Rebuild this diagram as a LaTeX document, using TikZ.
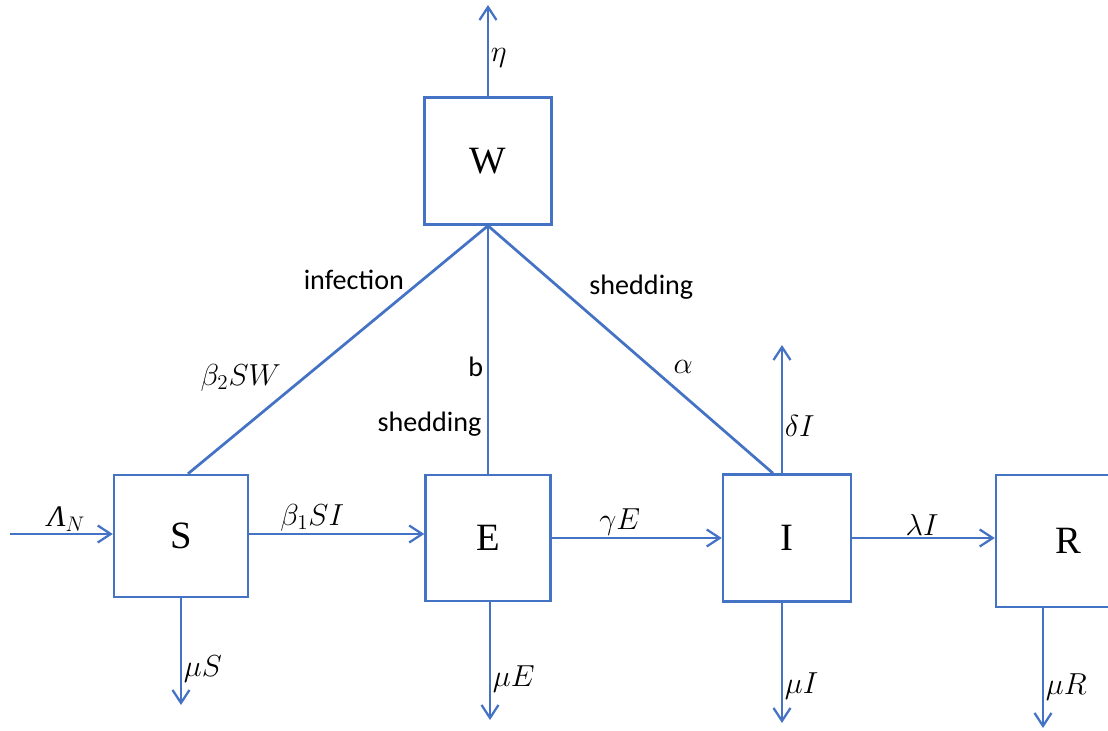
\documentclass[tikz,border=0pt]{standalone}
\usepackage{fontspec}
\setmainfont{Liberation Serif}
\newfontfamily\labfont{Carlito}
\usetikzlibrary{positioning,arrows.meta,calc}
\definecolor{flowblue}{HTML}{4472C4}

\begin{document}
\begin{tikzpicture}[x=0.02cm, y=-0.02cm,
    comp/.style={draw=flowblue, line width=0.5mm, minimum width=2.54cm,
                 minimum height=2.54cm, inner sep=0pt,
                 font=\fontsize{22}{24}\selectfont},
    arr/.style={-{Straight Barb[length=2.6mm,width=3.4mm]}, draw=flowblue,
                line width=0.45mm},
    link/.style={draw=flowblue, line width=0.55mm},
    lab/.style={font={\labfont\fontsize{16}{18}\selectfont}, inner sep=1pt},
    rate/.style={font=\fontsize{17}{19}\selectfont, inner sep=1pt},
  ]
  \useasboundingbox (0,0) rectangle (1108,730);
  \clip (0,0) rectangle (1108,730);

  % compartments
  \node[comp, minimum width=2.68cm, minimum height=2.44cm] (S) at (181,536) {S};
  \node[comp, minimum width=2.5cm, minimum height=2.52cm] (E) at (488,538) {E};
  \node[comp, minimum width=2.56cm] (I) at (787,538) {I};
  \node[comp, minimum width=2.88cm, minimum height=2.64cm] (R) at (1068,541) {R};
  \node[comp] (W) at (488,161) {W};

  % free ends of the flows
  \coordinate (inflow) at (10,534);
  \coordinate (muSend) at (181,705);
  \coordinate (muEend) at (490,720);
  \coordinate (dIend) at (782,345);
  \coordinate (muIend) at (782,723);
  \coordinate (muRend) at (1043,728);
  \coordinate (etaend) at (488,5);

  % flows between compartments
  \draw[arr] (inflow) -- node[rate, above, pos=0.55] {\textit{Λ}$_N$} (inflow -| S.west);
  \draw[arr] ([yshift=0.04cm]S.east) -- node[rate, above, pos=0.36] {$\beta_1 SI$}
    ([yshift=0.04cm]S.east -| E.west);
  \draw[arr] (E.east) -- node[rate, above, pos=0.4] {$\gamma E$} (I.west);
  \draw[arr] (I.east) -- node[rate, above, pos=0.49] {$\lambda I$} (I.east -| R.west);

  % outflows
  \draw[arr] (S) -- node[rate, right, pos=0.66] {$\mu S$} (muSend);
  \draw[arr] (E.south -| muEend) -- node[rate, right, pos=0.65] {$\mu E$} (muEend);
  \draw[arr] (I.south -| muIend) -- node[rate, right, pos=0.69] {$\mu I$} (muIend);
  \draw[arr] (I.north -| dIend) -- node[rate, right, pos=0.37] {$\delta I$} (dIend);
  \draw[arr] (R.south -| muRend) -- node[rate, right, pos=0.66] {$\mu R$} (muRend);
  \draw[arr] (W) -- node[rate, right, pos=0.42] {$\eta$} (etaend);

  % links with the water compartment
  \draw[link] (W.south) -- node[lab, pos=0.27, anchor=south east] {infection}
    node[rate, pos=0.68, anchor=south east] {$\beta_2 SW$} ($(S.north)+(7,0)$);
  \draw[link] (W.south) -- node[lab, pos=0.57, left=1pt] {b}
    node[lab, pos=0.8, left=2pt] {shedding} (E.north);
  \draw[link] (W.south) -- node[lab, pos=0.31, anchor=south west, xshift=0.2cm] {shedding}
    node[rate, pos=0.57, right=0.4cm] {$\alpha$} ($(I.north)+(-14,0)$);
\end{tikzpicture}
\end{document}
